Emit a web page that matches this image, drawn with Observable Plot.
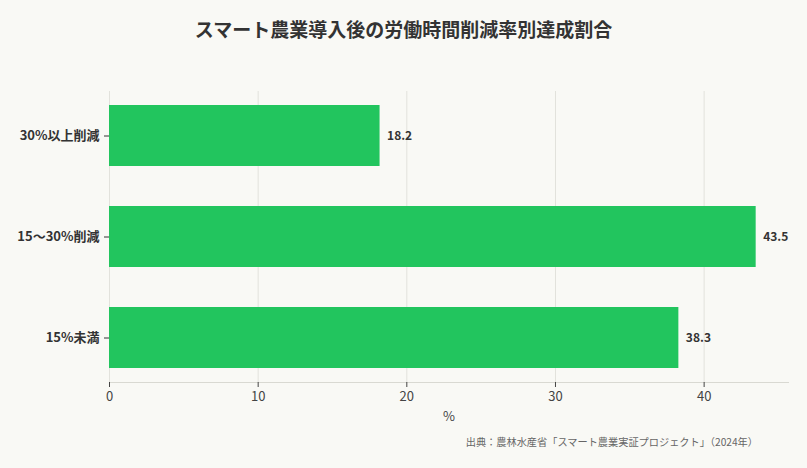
<!DOCTYPE html>
<html>
<head>
<meta charset="utf-8">
<script src="https://cdn.jsdelivr.net/npm/d3@7"></script>
<script src="https://cdn.jsdelivr.net/npm/@observablehq/plot@0.6"></script>
<style>
  html, body { margin: 0; padding: 0; background: #f9f9f5; }
  body { width: 807px; height: 468px; overflow: hidden; font-family: "Noto Sans CJK JP", "Noto Sans", sans-serif; }
  #title { height: 60px; line-height: 58px; text-align: center; font-size: 19px; font-weight: bold; color: #333; }
  #chart svg { display: block; background: #f9f9f5; }
  #caption { text-align: right; font-size: 10.2px; color: #666; padding-right: 49px; margin-top: 4px; }
</style>
</head>
<body>
<div id="title">スマート農業導入後の労働時間削減率別達成割合</div>
<div id="chart"></div>
<div id="caption">出典：農林水産省「スマート農業実証プロジェクト」（2024年）</div>
<script>
const categories = ["30%以上削減", "15〜30%削減", "15%未満"];
const values = [18.2, 43.5, 38.3];
const xTicks = [0, 10, 20, 30, 40];

const data = categories.map((c, i) => ({category: c, value: values[i]}));

const chart = Plot.plot({
  width: 807,
  height: 370,
  marginTop: 31,
  marginBottom: 48,
  marginLeft: 109,
  marginRight: 19,
  style: {background: "#f9f9f5", fontFamily: "'Noto Sans CJK JP', 'Noto Sans', sans-serif", color: "#333"},
  x: {domain: [0, 43.5 * 1.05], ticks: xTicks},
  y: {domain: categories, paddingInner: 0.4, paddingOuter: 0.13},
  marks: [
    Plot.gridX(xTicks, {stroke: "#e2e2dc", strokeOpacity: 1}),
    Plot.frame({anchor: "bottom", stroke: "#d9d9d2"}),
    Plot.barX(data, {x: "value", y: "category", fill: "#22c55e"}),
    Plot.text(data, {x: "value", y: "category", text: d => d.value.toFixed(1), textAnchor: "start", dx: 7, fontSize: 12, fontWeight: "bold", fill: "#333"}),
    Plot.axisY({tickSize: 5, tickPadding: 5, fontSize: 13, fontWeight: "bold", label: null, color: "#333"}),
    Plot.axisX({ticks: xTicks, tickSize: 5, tickPadding: 4, fontSize: 13, label: "%", labelAnchor: "center", labelArrow: "none", labelOffset: 38, color: "#444"})
  ]
});
document.getElementById("chart").appendChild(chart);
</script>
</body>
</html>
